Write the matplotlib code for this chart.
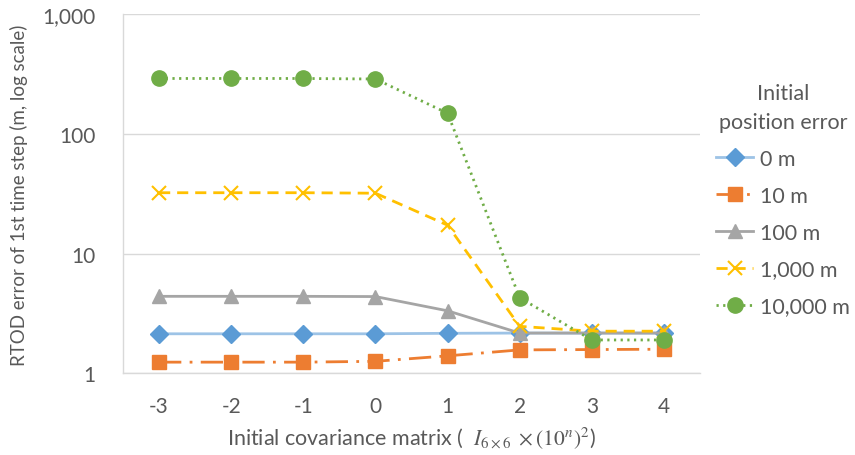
import numpy as np
import matplotlib.pyplot as plt
from matplotlib.ticker import FixedLocator, NullLocator

plt.rcParams['font.family'] = ['Lato', 'DejaVu Sans']
plt.rcParams['mathtext.fontset'] = 'stix'

# covariance exponent n
exponents = [-3, -2, -1, 0, 1, 2, 3, 4]

# RTOD error of the first time step (m), one series per initial position error
err_0m = [2.14, 2.14, 2.14, 2.14, 2.16, 2.17, 2.17, 2.17]
err_10m = [1.24, 1.24, 1.24, 1.26, 1.40, 1.57, 1.58, 1.59]
err_100m = [4.40, 4.40, 4.40, 4.38, 3.33, 2.17, 2.17, 2.17]
err_1000m = [32.3, 32.3, 32.3, 32.0, 17.3, 2.47, 2.25, 2.25]
err_10000m = [291, 291, 291, 288, 149, 4.28, 1.90, 1.90]

series_labels = ['0 m', '10 m', '100 m', '1,000 m', '10,000 m']
y_ticks = [1, 10, 100, 1000]
y_tick_labels = ['1', '10', '100', '1,000']

TXT = '#595959'
GRID = '#d9d9d9'

fig = plt.figure(figsize=(8.55, 4.56), dpi=100)
ax = fig.add_axes([0.1439, 0.1791, 0.6748, 0.7873])

x = np.arange(len(exponents))

ax.plot(x, err_0m, color='#9dc3e6', lw=2, marker='D', ms=9,
        mfc='#5b9bd5', mec='#5b9bd5', label=series_labels[0], zorder=3)
ax.plot(x, err_10m, color='#ed7d31', lw=2, ls=(0, (8, 3, 1, 3)), marker='s', ms=10,
        mfc='#ed7d31', mec='#ed7d31', label=series_labels[1], zorder=3)
ax.plot(x, err_100m, color='#a5a5a5', lw=2, marker='^', ms=10,
        mfc='#a5a5a5', mec='#a5a5a5', label=series_labels[2], zorder=3)
ax.plot(x, err_1000m, color='#ffc000', lw=2, ls=(0, (4, 2.5)), marker='x', ms=10,
        mew=1.5, label=series_labels[3], zorder=4)
ax.plot(x, err_10000m, color='#70ad47', lw=2, ls=(0, (0.8, 1.6)), marker='o', ms=11,
        mfc='#70ad47', mec='#70ad47', label=series_labels[4], zorder=5)

ax.set_yscale('log')
ax.set_ylim(1, 1000)
ax.set_xlim(-0.5, len(exponents) - 0.5)
ax.yaxis.set_major_locator(FixedLocator(y_ticks))
ax.set_yticklabels(y_tick_labels)
ax.yaxis.set_minor_locator(NullLocator())
ax.set_xticks(x)
ax.set_xticklabels([str(e) for e in exponents])

ax.grid(axis='y', color=GRID, lw=1)
ax.set_axisbelow(True)
for s in ['top', 'right']:
    ax.spines[s].set_visible(False)
for s in ['left', 'bottom']:
    ax.spines[s].set_color(GRID)
    ax.spines[s].set_linewidth(1)
ax.tick_params(length=0, labelsize=15, labelcolor=TXT)
ax.tick_params(axis='y', pad=20)
ax.tick_params(axis='x', pad=16)

ax.set_ylabel('RTOD error of 1st time step (m, log scale)', fontsize=13.5, color=TXT, labelpad=10)
ax.set_xlabel(r'Initial covariance matrix (  $I_{6\times6}\ \times(10^{n})^{2}$)',
              fontsize=15.5, color=TXT, labelpad=6)

leg = fig.legend(loc='upper left', bbox_to_anchor=(0.838, 0.815), frameon=False,
                 title='Initial\nposition error', fontsize=15.5, title_fontsize=15.5,
                 handlelength=1.7, handletextpad=0.3, labelspacing=0.78,
                 borderaxespad=0, borderpad=0)
leg.get_title().set_color(TXT)
leg.get_title().set_multialignment('center')
leg.get_title().set_linespacing(1.55)
for t in leg.get_texts():
    t.set_color(TXT)

fig.savefig('out.png', dpi=100)
